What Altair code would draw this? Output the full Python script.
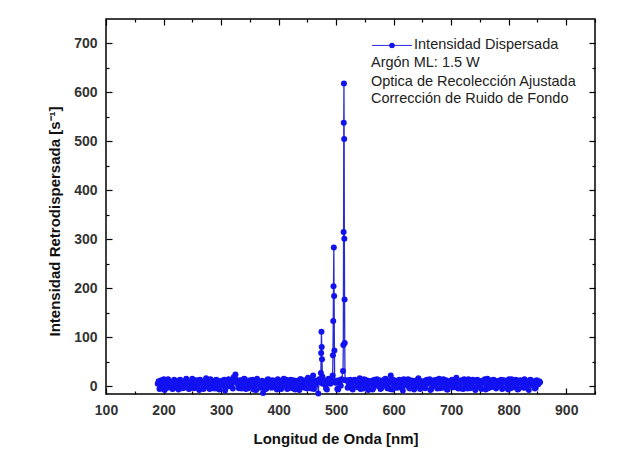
import altair as alt
import pandas as pd

# ---------------- data ----------------
noise_start_a = 190.0
noise_start_b = 191.5
noise_step = 3
noise_values_a = [
    5, -6, 12, 3, -8, 9, 14, -2, 6, -5, 10, 2, -7, 13, 4, -3, 8, 11, -6, 1, 15, -4,
    7, 12, -8, 3, 9, -2, 16, 5, -6, 10, 1, -5, 13, 6, -3, 11, 2, -9, 8, 14, 0, 6,
    18, 24, 9, -4, 12, 3, 15, -6, 7, 10, -2, 13, 1, -8, 9, 4, 6, -14, 6, -5, 14, 2,
    -3, 10, 5, -7, 12, 8, -2, 15, 3, -6, 9, 13, -4, 7, 11, 0, -8, 14, 4, -3, 10, 17,
    6, -5, 22, 2, 9, -15, 13, -4, 8, 3, -7, 15, 5, -2, 11, 7, -6, 12, 1, -4, 14, 8,
    -3, 10, 4, -7, 13, 6, -2, 16, 2, -5, 9, 12, -8, 5, 11, -3, 7, 14, 0, -6, 10, 3,
    15, -4, 8, 22, -7, 4, 10, -2, 13, 6, -9, 9, 3, 14, -5, 7, 11, -3, 5, 16, -6, 2,
    10, -4, 13, 7, -8, 4, 12, 1, -5, 15, 6, -3, 9, 12, -7, 3, 11, -2, 8, 17, -5, 5,
    12, -6, 9, 3, 14, -4, 7, 10, -8, 13, 2, -3, 11, 6, -7, 15, 4, -2, 9, 12, -5, 6,
    1, 13, -4, 8, 11, -7, 5, 14, -2, 9, 3, -6, 12, 7, -3, 10, 4, -8, 13, 2, 8, -3,
    6, 10,
]
noise_values_b = [
    10, 2, -5, 14, 7, -3, 11, 4, -6, 13, 8, -1, 12, 5, -4, 10, 15, 3, -5, 9, 6, 12,
    -2, 8, 13, 4, -6, 11, 7, 1, 14, -4, 9, 12, 3, -7, 10, 5, 13, -3, 6, 11, 2, -5,
    9, 13, 3, 11, -5, 8, 14, 2, -4, 12, 6, -7, 10, 15, 4, -3, 11, 7, -6, 13, 5, 9,
    12, -2, 8, 14, 1, -6, 10, 6, 13, -4, 9, 3, 12, -7, 5, 11, 14, -1, 8, 12, -5, 6,
    13, 4, -6, 11, 7, 14, -3, 9, 12, -5, 6, 10, 13, -2, 4, 11, -7, 8, 14, 3, -4, 12,
    7, 13, -5, 9, 2, 12, 8, -6, 11, 14, 3, -3, 10, 6, -7, 13, 4, 9, 12, -4, 6, 14,
    2, 11, -6, 7, 13, 4, -3, 12, 8, -5, 14, 3, 10, -2, 12, 6, -7, 9, 13, 1, 10, 7,
    -3, 12, 5, 14, -6, 9, 3, 13, 8, -4, 11, 14, 2, -7, 10, 6, 13, -2, 4, 12, 9, -5,
    8, 14, 2, -5, 11, 6, 13, -3, 9, 12, 4, -6, 10, 14, 1, -4, 12, 7, 13, -2, 8, 11,
    5, -6, 12, 9, 3, 14, -4, 10, 6, 13, -7, 8, 11, 2, 14, -3, 9, 12, 5, 10, -5, 12,
    4, 8,
]
peak_windows = [(472.5, 477.5), (492.5, 498.5), (510.5, 517.5)]
peak_wavelengths = [473.5, 474.0, 474.5, 475.0, 475.5, 476.0, 476.5,
                    494.0, 494.5, 495.0, 495.5, 496.0, 496.5, 497.0, 497.5,
                    512.0, 512.5, 513.0, 513.3, 513.6, 514.0, 514.3, 514.7, 515.0, 515.5]
peak_values = [27, 68, 111, 80, 55, 20, 5,
               22, 63, 133, 204, 283, 184, 73, 8,
               31, 84, 315, 538, 618, 505, 301, 177, 88, 12]

x_major = [100, 200, 300, 400, 500, 600, 700, 800, 900]
x_minor = [150, 250, 350, 450, 550, 650, 750, 850, 950]
y_major = [0, 100, 200, 300, 400, 500, 600, 700]
y_minor = [50, 150, 250, 350, 450, 550, 650]
x_domain = [100, 950]
y_domain = [-16, 750]

series_name = "Intensidad Dispersada"
notes = ["Argón ML: 1.5 W", "Optica de Recolección Ajustada", "Corrección de Ruido de Fondo"]
note_x = [560.6, 560.6, 560.6]
note_y = [659.5, 622.0, 585.6]
legend_line_x = [562.4, 631.9]
legend_y = 696.0
legend_label_x = 635.4

# ---------------- tables ----------------
rows = []
for start, vals in ((noise_start_a, noise_values_a), (noise_start_b, noise_values_b)):
    for i, v in enumerate(vals):
        x = start + noise_step * i
        if not any(a <= x <= b for a, b in peak_windows):
            rows.append((x, v))
rows += list(zip(peak_wavelengths, peak_values))
df = pd.DataFrame(rows, columns=["wl", "val"]).sort_values("wl").reset_index(drop=True)

ann = pd.DataFrame({
    "x": [legend_label_x] + note_x,
    "y": [legend_y] + note_y,
    "text": [series_name] + notes,
})
leg_line = pd.DataFrame({"x1": [legend_line_x[0]], "x2": [legend_line_x[1]], "y": [legend_y]})
leg_pt = pd.DataFrame({"x": [(legend_line_x[0] + legend_line_x[1]) / 2], "y": [legend_y]})

FONT = "Liberation Sans"
LINE_COLOR = "#2a2ad8"
PT_COLOR = "#1212f0"

xs = alt.Scale(domain=x_domain, nice=False, zero=False)
ys = alt.Scale(domain=y_domain, nice=False, zero=False)


def tick_axis(orient, values, size, **kw):
    base = dict(orient=orient, values=values, tickSize=size, offset=-size,
                domain=False, grid=False, ticks=True, tickColor="black", tickWidth=1.2,
                labels=False, title=None)
    base.update(kw)
    return alt.Axis(**base)


x_main = tick_axis(
    "bottom", x_major, 6, labels=True, labelFlush=False, labelOverlap=False,
    labelFont=FONT, labelFontSize=14, labelFontWeight="bold", labelColor="#333333",
    labelPadding=9, title="Longitud de Onda [nm]", titleFont=FONT, titleFontSize=15,
    titleFontWeight="bold", titleColor="#111111", titleX=229.5, titleY=55,
    titleAlign="center", titleBaseline="alphabetic")
y_main = tick_axis(
    "left", y_major, 6, labels=True, labelFlush=False, labelOverlap=False,
    labelFont=FONT, labelFontSize=14, labelFontWeight="bold", labelColor="#333333",
    labelPadding=9, title="Intensidad Retrodispersada [s⁻¹]", titleFont=FONT,
    titleFontSize=15, titleFontWeight="bold", titleColor="#111111", titleX=-53,
    titleY=202, titleAlign="center", titleBaseline="alphabetic", titleAngle=270)

line = alt.Chart(df).mark_line(color=LINE_COLOR, strokeWidth=1.3).encode(
    x=alt.X("wl:Q", scale=xs, axis=x_main),
    y=alt.Y("val:Q", scale=ys, axis=y_main),
)
points = alt.Chart(df).mark_point(filled=True, color=PT_COLOR, size=36, opacity=1).encode(
    x=alt.X("wl:Q", scale=xs, axis=tick_axis("bottom", x_minor, 3)),
    y=alt.Y("val:Q", scale=ys, axis=tick_axis("left", y_minor, 3)),
)
text = alt.Chart(ann).mark_text(align="left", baseline="middle", font=FONT,
                                fontSize=14.5, color="#222222").encode(
    x=alt.X("x:Q", scale=xs, axis=tick_axis("top", x_major, 6)),
    y=alt.Y("y:Q", scale=ys, axis=tick_axis("right", y_major, 6)),
    text="text:N",
)
leg_rule = alt.Chart(leg_line).mark_rule(color=LINE_COLOR, strokeWidth=1).encode(
    x=alt.X("x1:Q", scale=xs, axis=tick_axis("top", x_minor, 3)),
    x2="x2:Q",
    y=alt.Y("y:Q", scale=ys, axis=tick_axis("right", y_minor, 3)),
)
leg_point = alt.Chart(leg_pt).mark_point(filled=True, color=PT_COLOR, size=30, opacity=1).encode(
    x=alt.X("x:Q", scale=xs, axis=None),
    y=alt.Y("y:Q", scale=ys, axis=None),
)

chart = alt.layer(line, points, text, leg_rule, leg_point).resolve_axis(
    x="independent", y="independent"
).properties(
    width=489, height=375,
    padding={"left": 98, "top": 11, "right": 33, "bottom": 60},
    autosize=alt.AutoSizeParams(type="none"),
    background="white",
).configure_view(stroke="black", strokeWidth=1.5)

chart.save("out.html", embed_options={"renderer": "svg", "actions": False})
